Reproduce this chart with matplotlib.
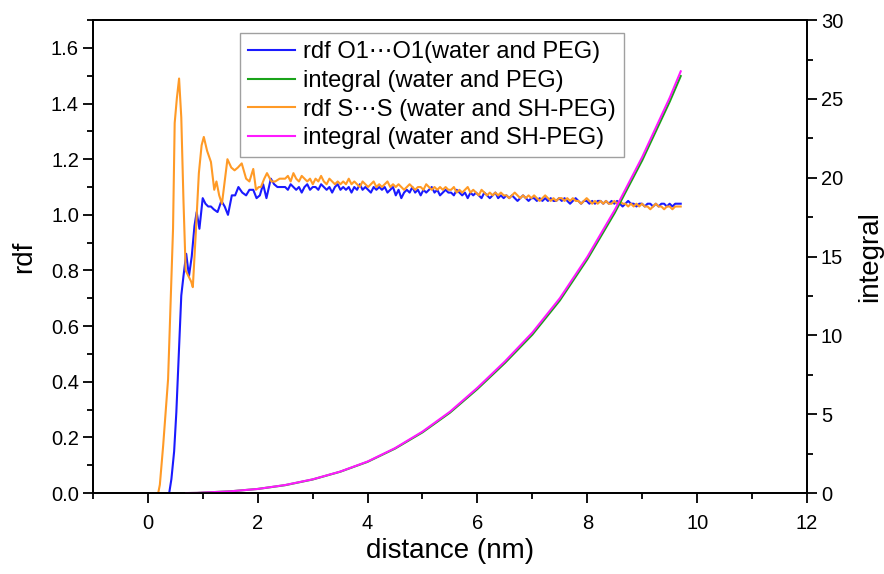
import numpy as np
import matplotlib as mpl
import matplotlib.pyplot as plt
from matplotlib.ticker import MultipleLocator

mpl.use('Agg')
plt.rcParams['font.family'] = ['Liberation Sans', 'DejaVu Sans']

# rdf O1...O1 (water and PEG): first-peak region read point by point
o1_x_head = [0.30, 0.39, 0.43, 0.48, 0.52, 0.56, 0.61, 0.65, 0.70, 0.75, 0.80, 0.85, 0.89, 0.94,
             1.00, 1.05, 1.10, 1.15, 1.20, 1.27, 1.34, 1.40, 1.46, 1.53, 1.59, 1.65, 1.72, 1.79,
             1.85, 1.92, 1.98, 2.04, 2.10, 2.16, 2.24, 2.30, 2.36, 2.42]
o1_y_head = [0.00, 0.00, 0.05, 0.15, 0.29, 0.48, 0.71, 0.78, 0.86, 0.78, 0.85, 0.96, 1.01, 0.95,
             1.06, 1.04, 1.03, 1.03, 1.02, 1.01, 1.05, 1.03, 1.00, 1.07, 1.07, 1.10, 1.08, 1.07,
             1.09, 1.09, 1.06, 1.07, 1.11, 1.06, 1.13, 1.11, 1.10, 1.10]
# tail from 2.5 to 9.7 nm
o1_y_tail = [1.10, 1.09, 1.11, 1.10, 1.09, 1.10, 1.08, 1.10, 1.11, 1.09, 1.10, 1.10, 1.09, 1.11, 1.10, 1.09, 1.10, 1.08, 1.10, 1.11,
             1.09, 1.10, 1.09, 1.10, 1.08, 1.10, 1.09, 1.11, 1.09, 1.10, 1.09, 1.08, 1.10, 1.09, 1.10, 1.09, 1.10, 1.08, 1.09, 1.10,
             1.07, 1.09, 1.06, 1.08, 1.09, 1.08, 1.10, 1.08, 1.09, 1.07, 1.09, 1.08, 1.09, 1.10, 1.08, 1.09, 1.07, 1.08, 1.09, 1.08,
             1.08, 1.07, 1.09, 1.08, 1.07, 1.08, 1.06, 1.08, 1.07, 1.08, 1.07, 1.06, 1.08, 1.07, 1.06, 1.07, 1.08, 1.06, 1.07, 1.06,
             1.07, 1.06, 1.07, 1.06, 1.05, 1.06, 1.07, 1.06, 1.05, 1.06, 1.06, 1.05, 1.06, 1.05, 1.06, 1.05, 1.06, 1.05, 1.05, 1.06,
             1.05, 1.06, 1.05, 1.04, 1.05, 1.06, 1.05, 1.04, 1.05, 1.05, 1.04, 1.05, 1.04, 1.05, 1.05, 1.04, 1.05, 1.04, 1.05, 1.04,
             1.05, 1.04, 1.03, 1.04, 1.05, 1.04, 1.04, 1.03, 1.04, 1.04, 1.03, 1.04, 1.04, 1.03, 1.04, 1.03, 1.04, 1.04, 1.03, 1.04,
             1.03, 1.04, 1.04, 1.04]

# rdf S...S (water and SH-PEG)
ss_x_head = [0.10, 0.19, 0.22, 0.28, 0.37, 0.43, 0.46, 0.49, 0.53, 0.57, 0.61, 0.65, 0.69, 0.74,
             0.79, 0.82, 0.87, 0.93, 0.98, 1.02, 1.08, 1.15, 1.21, 1.25, 1.30, 1.35, 1.40, 1.45,
             1.52, 1.58, 1.64, 1.71, 1.79, 1.85, 1.92, 1.97, 2.02, 2.06, 2.12, 2.17, 2.25, 2.32, 2.40]
ss_y_head = [0.00, 0.00, 0.03, 0.17, 0.41, 0.77, 0.95, 1.33, 1.42, 1.49, 1.35, 1.05, 0.80, 0.78,
             0.76, 0.74, 0.92, 1.15, 1.25, 1.28, 1.23, 1.19, 1.09, 1.12, 1.07, 1.04, 1.12, 1.20,
             1.17, 1.16, 1.17, 1.185, 1.13, 1.12, 1.165, 1.09, 1.10, 1.10, 1.13, 1.15, 1.12, 1.12, 1.13]
ss_y_tail = [1.13, 1.14, 1.12, 1.15, 1.13, 1.12, 1.14, 1.13, 1.12, 1.13, 1.11, 1.13, 1.12, 1.14, 1.12, 1.11, 1.13, 1.12, 1.11, 1.12,
             1.11, 1.12, 1.11, 1.13, 1.11, 1.12, 1.11, 1.10, 1.12, 1.11, 1.10, 1.11, 1.12, 1.10, 1.11, 1.10, 1.11, 1.12, 1.10, 1.11,
             1.10, 1.11, 1.10, 1.09, 1.10, 1.11, 1.10, 1.09, 1.10, 1.10, 1.09, 1.11, 1.10, 1.09, 1.10, 1.09, 1.10, 1.09, 1.10, 1.09,
             1.09, 1.10, 1.08, 1.09, 1.08, 1.09, 1.10, 1.08, 1.09, 1.08, 1.07, 1.09, 1.08, 1.07, 1.08, 1.07, 1.08, 1.07, 1.08, 1.07,
             1.07, 1.06, 1.07, 1.08, 1.07, 1.06, 1.07, 1.06, 1.07, 1.06, 1.07, 1.06, 1.05, 1.06, 1.07, 1.06, 1.05, 1.06, 1.05, 1.06,
             1.06, 1.05, 1.06, 1.05, 1.06, 1.05, 1.05, 1.04, 1.05, 1.06, 1.05, 1.04, 1.05, 1.04, 1.05, 1.04, 1.05, 1.04, 1.04, 1.05,
             1.04, 1.05, 1.04, 1.04, 1.03, 1.04, 1.03, 1.04, 1.03, 1.04, 1.03, 1.03, 1.02, 1.03, 1.04, 1.03, 1.03, 1.02, 1.03, 1.03,
             1.02, 1.03, 1.03, 1.03]

# running integrals (right axis)
int_x = [0.7, 0.9, 1.0, 1.5, 2.0, 2.5, 3.0, 3.5, 4.0, 4.5, 5.0, 5.5, 6.0, 6.5, 7.0, 7.5, 8.0, 8.5, 9.0, 9.5, 9.7]
int_peg = [0.0, 0.01, 0.03, 0.11, 0.26, 0.50, 0.86, 1.35, 1.98, 2.82, 3.85, 5.10, 6.60, 8.25, 10.05, 12.22, 14.83, 17.78, 21.11, 24.83, 26.45]
int_shpeg = [0.0, 0.01, 0.03, 0.11, 0.26, 0.51, 0.87, 1.36, 2.00, 2.85, 3.90, 5.16, 6.68, 8.35, 10.18, 12.36, 14.98, 17.96, 21.32, 25.08, 26.75]

o1_x = o1_x_head + list(np.linspace(2.5, 9.7, len(o1_y_tail)))
o1_y = o1_y_head + o1_y_tail
ss_x = ss_x_head + list(np.linspace(2.5, 9.7, len(ss_y_tail)))
ss_y = ss_y_head + ss_y_tail

fig = plt.figure(figsize=(8.84, 5.74), dpi=100)
ax = fig.add_axes([0.105, 0.141, 0.808, 0.824])
ax2 = ax.twinx()

l1, = ax.plot(o1_x, o1_y, color='#1a1aff', lw=1.5, label='rdf O1\u22efO1(water and PEG)')
l2, = ax2.plot(int_x, int_peg, color='#1aa31a', lw=1.5, label='integral (water and PEG)')
l3, = ax.plot(ss_x, ss_y, color='#ff9a26', lw=1.5, label='rdf S\u22efS (water and SH-PEG)')
l4, = ax2.plot(int_x, int_shpeg, color='#ff1aff', lw=1.5, label='integral (water and SH-PEG)')

ax.set_xlim(-1, 12)
ax.set_ylim(0, 1.7)
ax2.set_ylim(0, 30)
ax.xaxis.set_major_locator(MultipleLocator(2))
ax.xaxis.set_minor_locator(MultipleLocator(1))
ax.yaxis.set_major_locator(MultipleLocator(0.2))
ax.yaxis.set_minor_locator(MultipleLocator(0.1))
ax2.yaxis.set_major_locator(MultipleLocator(5))
ax2.yaxis.set_minor_locator(MultipleLocator(2.5))
ax.yaxis.set_major_formatter(mpl.ticker.FormatStrFormatter('%.1f'))

for a in (ax, ax2):
    a.tick_params(which='major', length=7, width=1.3, labelsize=14.5, direction='out', pad=3)
    a.tick_params(which='minor', length=4, width=1.3, direction='out')
    for s in a.spines.values():
        s.set_linewidth(1.3)
ax.tick_params(axis='x', pad=8)

ax.set_xlabel('distance (nm)', fontsize=20, labelpad=4)
ax.set_ylabel('rdf', fontsize=20, labelpad=10)
ax2.set_ylabel('integral', fontsize=20, labelpad=10)

leg = ax.legend(handles=[l1, l2, l3, l4], loc='upper left', bbox_to_anchor=(0.206, 0.9725),
                fontsize=17, frameon=True, fancybox=False, handlelength=2.0,
                handletextpad=0.3, borderpad=0.35, labelspacing=0.28, borderaxespad=0.0)
leg.get_frame().set_edgecolor('#888888')
leg.get_frame().set_linewidth(1.0)

fig.savefig('out.png', dpi=100)
